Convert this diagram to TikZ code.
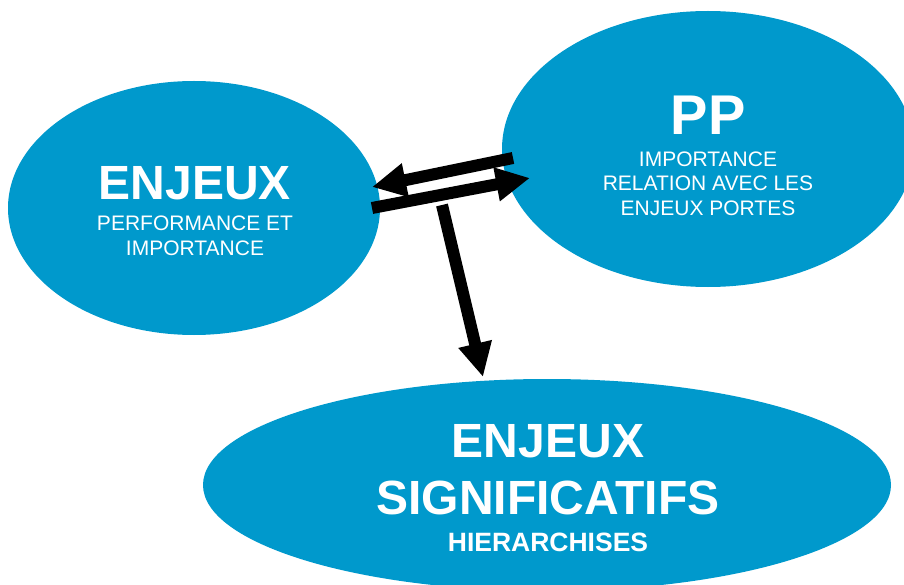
\documentclass[tikz,border=0pt]{standalone}
\usepackage{fontspec}
\setmainfont{Liberation Sans}
\usetikzlibrary{shapes.geometric,arrows.meta}
\definecolor{blob}{RGB}{0,153,204}
\tikzset{
  blobshape/.style={ellipse, fill=blob, draw=none, inner sep=0pt},
  title/.style={text=white, font=\bfseries\fontsize{48}{48}\selectfont, anchor=base, inner sep=0pt},
  sub/.style={text=white, font=\fontsize{21}{21}\selectfont, anchor=base, inner sep=0pt},
  bigarrow/.style={line width=12pt, draw=black, -{Triangle[length=34pt,width=32pt]}}
}
\begin{document}
\begin{tikzpicture}[x=1pt,y=-1pt]
\useasboundingbox (0,0) rectangle (904,585);
\clip (0,0) rectangle (904,585);
% ellipses
\node[blobshape, minimum width=372pt, minimum height=254pt] (enjeux) at (194,208) {};
\node[blobshape, minimum width=412pt, minimum height=276pt] (pp) at (708,149) {};
\node[blobshape, minimum width=688pt, minimum height=212pt] (sig) at (547,485) {};
% texts
\node[title] (t1) at (195,200) {ENJEUX};
\node[sub] (t1a) at (195,231) {PERFORMANCE ET};
\node[sub] (t1b) at (195,255) {IMPORTANCE};
\node[title, font=\bfseries\fontsize{56}{56}\selectfont] (t2) at (708,135) {PP};
\node[sub] (t2a) at (708,167) {IMPORTANCE};
\node[sub] (t2b) at (708,191) {RELATION AVEC LES};
\node[sub] (t2c) at (708,216) {ENJEUX PORTES};
\node[title] (t3) at (548,457) {ENJEUX};
\node[title] (t3a) at (548,514) {SIGNIFICATIFS};
\node[title, font=\bfseries\fontsize{26.5}{26.5}\selectfont] (t3b) at (548,551) {HIERARCHISES};
% connector end points
\coordinate (ppL) at (513,158);
\coordinate (enR) at (372,187);
\coordinate (enR2) at (372,208);
\coordinate (ppL2) at (530,178);
\coordinate (mid) at (442,205);
\coordinate (sigT) at (483,377);
% arrows
\draw[bigarrow] (ppL) -- (enR);
\draw[bigarrow] (enR2) -- (ppL2);
\draw[bigarrow] (mid) -- (sigT);
\end{tikzpicture}
\end{document}
